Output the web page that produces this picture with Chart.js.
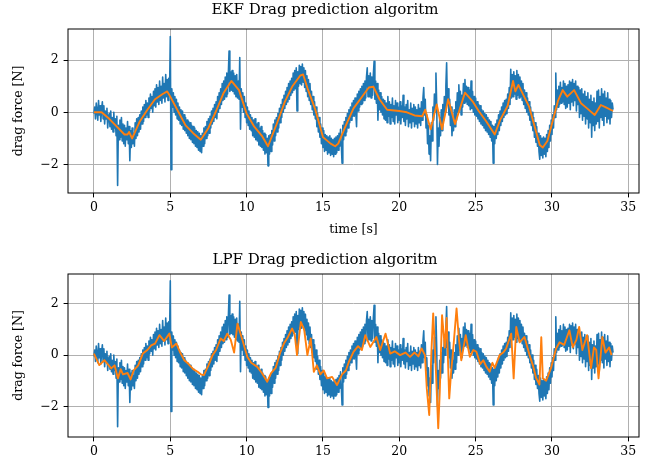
<!DOCTYPE html>
<html>
<head>
<meta charset="utf-8">
<script src="https://cdn.jsdelivr.net/npm/chart.js@4.4.0/dist/chart.umd.min.js"></script>
<style>
  html, body { margin: 0; padding: 0; background: #fff; }
  #wrap { position: relative; width: 654px; height: 468px; }
  #top { position: absolute; left: 0; top: 0; width: 654px; height: 240px; }
  #bottom { position: absolute; left: 0; top: 240px; width: 654px; height: 228px; }
</style>
</head>
<body>
<div id="wrap">
  <canvas id="top" width="654" height="240"></canvas>
  <canvas id="bottom" width="654" height="228"></canvas>
</div>
<script>
// --- Data ---
const sampleStep = 0.05; // measured signal, one value every 0.05 s, one row per second
const measuredForce = [
  -0.05, 0.2, -0.25, 0.35, 0.05, -0.3, 0.45, -0.1, 0.25, -0.35, 0.1, 0.4, -0.25, 0.25, -0.45, 0.05, -0.25, 0.15, -0.6, -0.15,
  -0.05, -0.55, 0.05, -0.65, -0.2, -0.75, 0.0, -0.6, -0.25, -0.9, -0.15, -2.8, -0.5, -1.05, -0.3, -0.95, -0.2, -1.1, -0.45, -1.2,
  -0.5, -1.3, -0.6, -1.05, -0.35, -1.2, -0.55, -1.85, -0.7, -1.35, -0.6, -1.2, -0.8, -1.3, -0.4, -1.0, -0.25, -0.9, -0.2, -0.75,
  -0.1, -0.65, 0.05, -0.45, 0.2, -0.35, 0.3, -0.2, 0.45, -0.1, 0.35, -0.2, 0.55, 0.05, 0.7, 0.15, 0.6, 0.0, 0.8, 0.25,
  0.9, 0.2, 1.05, 0.4, 0.95, 0.3, 1.2, 0.45, 1.0, 0.35, 1.35, 0.55, 1.1, 0.4, 1.45, 0.6, 1.25, 0.45, 1.3, 0.7,
  2.9, -2.2, 0.9, 0.2, 0.75, 0.0, 0.6, -0.1, 0.5, -0.25, 0.35, -0.3, 0.2, -0.45, 0.1, -0.5, 0.05, -0.65, -0.1, -0.7,
  -0.2, -0.8, -0.3, -0.9, -0.35, -1.0, -0.4, -1.05, -0.5, -1.15, -0.55, -1.2, -0.6, -1.3, -0.7, -1.35, -0.75, -1.45, -0.8, -1.5,
  -0.9, -1.55, -0.8, -1.3, -0.6, -1.2, -0.55, -1.0, -0.35, -0.9, -0.25, -0.8, -0.15, -0.6, 0.05, -0.45, 0.15, -0.35, 0.3, -0.2,
  0.4, -0.25, 0.6, 0.0, 0.75, 0.15, 0.9, 0.3, 1.1, 0.45, 1.2, 0.5, 1.35, 0.6, 1.5, 0.7, 1.45, 2.35, 0.8, 1.55,
  0.85, 1.6, 0.8, 1.5, 0.7, 1.4, 0.6, 1.45, 0.55, 1.2, 0.5, 2.1, -0.65, 0.9, 0.2, 0.75, 0.0, 0.6, -0.2, 0.35,
  -0.4, 0.2, -0.5, 0.05, -0.65, -0.1, -0.7, -0.2, -0.9, -0.3, -0.95, -0.25, -1.05, -0.45, -1.1, -0.4, -1.25, -0.6, -1.3, -0.55,
  -1.35, -0.7, -1.45, -0.8, -1.6, -0.85, -1.55, -1.0, -2.05, -0.9, -1.6, -0.85, -1.5, -0.7, -1.25, -0.45, -1.1, -0.3, -0.9, -0.2,
  -0.75, -0.05, -0.6, 0.15, -0.4, 0.3, -0.2, 0.5, 0.0, 0.65, 0.15, 0.8, 0.3, 0.95, 0.4, 1.1, 0.5, 1.2, 0.65, 1.3,
  0.75, 1.5, 0.85, 1.6, 0.9, 1.7, 0.05, 1.55, 1.0, 1.8, 1.1, 1.75, 1.05, 1.85, 1.15, 1.7, 0.95, 1.6, 0.8, 1.4,
  0.6, 1.25, 0.45, 1.1, 0.3, 0.8, 0.1, 0.6, -0.1, 0.4, -0.25, 0.2, -0.55, -0.05, -0.75, -0.2, -0.95, -0.45, -1.2, -0.6,
  -1.35, -0.7, -1.5, -0.85, -1.45, -0.9, -1.6, -0.95, -1.55, -0.9, -1.65, -1.0, -1.6, -1.05, -1.7, -1.0, -1.6, -0.95, -1.55, -0.9,
  -1.45, -0.8, -1.3, -0.65, -1.2, -1.95, -0.5, -1.05, -0.35, -0.9, -0.2, -0.75, -0.05, -0.6, 0.1, -0.4, 0.2, -0.3, 0.35, -0.15,
  0.45, -0.15, 0.55, 0.0, -0.55, 0.7, 0.05, 0.8, 0.2, 0.9, 0.3, 1.0, 0.35, 1.1, 0.45, 1.2, 0.55, 1.35, 1.7, 0.6,
  1.4, 0.6, 1.5, 0.55, 1.35, 0.65, 1.45, 1.95, 0.5, 1.2, 0.35, 1.1, -0.3, 0.85, 0.1, 0.75, 0.0, 0.6, -0.1, 0.5,
  -0.25, 0.45, -0.3, 0.35, -0.4, 0.6, -0.15, 0.4, -0.45, 0.3, -0.2, 0.55, -0.35, 0.25, -0.45, 0.45, -0.1, 0.35, -0.4, 0.2,
  -0.3, 0.4, -0.45, 0.25, -0.2, 0.65, -0.35, 0.2, -0.5, 0.3, -0.25, 0.45, -0.55, 0.1, -0.4, 0.35, -0.6, 0.15, -0.35, 0.3,
  -0.55, 0.2, -0.45, 0.1, -0.6, 0.3, -0.4, 0.15, -0.5, 0.4, -0.3, 0.55, 0.95, -0.1, 0.5, -0.6, -0.1, -1.2, -0.5, -1.6,
  -0.9, -1.85, -0.4, -1.1, 0.2, -0.3, 0.7, 0.0, 1.5, 0.3, -2.0, -0.6, -1.3, -0.2, -0.9, 0.1, -0.7, 0.3, -0.3, 0.6,
  0.0, 1.0, 1.9, 0.3, 0.9, -0.1, 0.5, -0.5, 0.2, -0.9, -0.2, -0.7, 0.1, -0.55, 0.4, -0.3, 0.75, 0.0, 1.05, 0.2,
  0.8, -0.1, 0.65, 0.2, 1.1, 0.35, 1.25, 0.4, 1.0, 0.3, 0.95, 0.25, 0.85, 0.1, 1.2, 0.15, 0.8, 0.0, 0.6, -0.1,
  0.55, -0.15, 0.4, -0.25, 0.3, -0.35, 0.25, -0.45, 0.1, -0.5, 0.05, -0.6, -0.05, -0.7, -0.1, -0.75, -0.2, -0.85, -0.3, -0.95,
  -0.35, -1.1, -0.5, -1.95, -0.55, -1.2, -0.45, -1.0, -0.3, -0.85, -0.1, -0.7, 0.05, -0.5, 0.2, -0.35, 0.35, -0.2, 0.45, -0.1,
  0.5, -0.05, 0.7, 0.15, 0.95, 0.3, 1.65, 0.55, 1.45, 0.6, 1.55, 0.7, 1.4, 0.5, 1.6, 0.65, 1.45, 0.55, 1.35, 0.6,
  1.2, 0.45, 1.1, 0.3, 0.85, 0.15, 0.75, 0.0, 0.55, -0.1, 0.4, -0.3, 0.2, -0.5, 0.0, -0.7, -0.2, -0.95, -0.4, -1.15,
  -0.55, -1.3, -0.8, -1.5, -1.8, -0.9, -1.65, -1.0, -1.75, -0.95, -1.6, -1.0, -1.7, -0.85, -1.5, -0.7, -1.35, -0.5, -1.1, -0.3,
  -0.85, -0.1, -0.6, 0.25, -0.2, 1.5, 0.1, 0.85, 0.2, 1.0, 0.3, 1.15, 0.35, 0.95, 0.4, 1.2, 0.3, 1.1, 0.15, 1.0,
  0.2, 1.05, 0.35, 1.2, 0.1, 1.15, 0.4, 1.25, 0.25, 1.1, 0.45, 1.2, 0.05, 1.0, 0.3, 0.95, -0.2, 0.85, -0.05, 0.9,
  -0.3, 0.7, -0.15, 0.8, -0.45, 0.6, -0.25, 0.75, -0.6, 0.5, -0.4, 0.65, -0.95, 0.4, -0.5, 0.55, -0.7, 0.35, -0.45, 0.8,
  -0.35, 0.85, -0.6, 0.6, -0.2, 0.9, -0.3, 0.7, -0.5, 0.8, -0.15, 0.55, -0.4, 0.75, -0.25, 0.5, -0.45, 0.45, -0.2, 0.35,
  0.1
];
const measuredTime = measuredForce.map((_, i) => +(i * sampleStep).toFixed(2));

const ekfTime = [
  0, 0.5, 1.0, 1.5, 2.0, 2.2, 2.3, 2.5, 3.0, 3.5,
  4.0, 4.5, 4.8, 5.0, 5.5, 6.0, 6.5, 7.0, 7.5, 8.0,
  8.5, 9.0, 9.5, 10.0, 10.5, 11.0, 11.4, 12.0, 12.5, 13.0,
  13.5, 13.7, 14.0, 14.5, 15.0, 15.5, 15.8, 16.0, 16.5, 17.0,
  17.5, 18.0, 18.3, 18.7, 19.2, 20.0, 20.5, 21.0, 21.5, 21.7,
  22.05, 22.45, 22.8, 23.2, 23.65, 24.3, 24.8, 25.2, 25.7, 26.25,
  26.6, 27.1, 27.45, 27.6, 27.8, 28.5, 29.2, 29.4, 29.7, 30.4,
  30.7, 31.0, 31.45, 31.9, 32.3, 32.8, 33.2, 33.5, 34.0
];
const ekfForce = [
  0.0, 0.0, -0.25, -0.55, -0.85, -0.85, -0.75, -1.0, -0.35, 0.1,
  0.5, 0.7, 0.8, 0.6, 0.05, -0.5, -0.8, -1.05, -0.6, 0.05,
  0.75, 1.2, 0.85, -0.05, -0.55, -0.9, -1.3, -0.4, 0.4, 1.0,
  1.4, 1.45, 0.9, 0.1, -0.95, -1.2, -1.3, -1.2, -0.5, 0.15,
  0.55, 0.95, 0.98, 0.5, 0.1, 0.05, 0.0, -0.12, -0.15, 0.1,
  -0.65, 0.3, -0.65, 0.5, -0.45, 0.75, 0.42, 0.05, -0.35, -0.85,
  -0.3, 0.25, 1.2, 0.8, 1.05, 0.22, -1.25, -1.35, -1.1, 0.45,
  0.85, 0.6, 0.85, 0.35, 0.15, -0.1, 0.28, 0.2, 0.05
];

const lpfTime = [
  0, 0.35, 0.68, 0.9, 1.13, 1.35, 1.57, 1.75, 1.9, 2.2,
  2.4, 2.6, 2.9, 3.2, 3.5, 3.75, 4.0, 4.29, 4.6, 4.94,
  5.1, 5.4, 5.65, 5.92, 6.2, 6.5, 6.79, 7.0, 7.2, 7.5,
  7.77, 8.0, 8.3, 8.5, 8.73, 8.96, 9.18, 9.4, 9.72, 10.05,
  10.3, 10.7, 11.0, 11.35, 11.6, 11.9, 12.2, 12.44, 12.7, 12.98,
  13.15, 13.3, 13.55, 13.77, 13.98, 14.2, 14.4, 14.6, 14.83, 15.05,
  15.27, 15.6, 15.92, 16.25, 16.5, 16.7, 17.0, 17.3, 17.55, 17.77,
  18.1, 18.5, 18.75, 19.1, 19.4, 19.7, 20.05, 20.4, 20.7, 21.0,
  21.25, 21.46, 21.68, 21.8, 21.96, 22.1, 22.22, 22.4, 22.55, 22.65,
  22.8, 22.98, 23.1, 23.27, 23.4, 23.5, 23.75, 23.9, 24.06, 24.35,
  24.62, 24.85, 25.05, 25.3, 25.5, 25.7, 25.92, 26.1, 26.25, 26.57,
  26.8, 27.0, 27.33, 27.49, 27.66, 27.88, 28.2, 28.53, 28.75, 28.96,
  29.18, 29.3, 29.4, 29.62, 29.94, 30.27, 30.5, 30.8, 31.14, 31.36,
  31.6, 31.78, 31.99, 32.3, 32.56, 32.75, 32.9, 33.05, 33.3, 33.5,
  33.75, 33.9
];
const lpfForce = [
  0.06, -0.39, -0.2, -0.35, -0.52, -0.4, -0.91, -0.55, -0.75, -0.7,
  -0.95, -0.6, -0.4, 0.06, 0.2, 0.38, 0.45, 0.78, 0.55, 0.84,
  0.3, 0.45, 0.1, -0.2, -0.35, -0.55, -0.65, -0.75, -0.78, -0.4,
  0.0, 0.2, 0.65, 0.55, 0.84, 0.6, 0.1, 1.23, 0.6, -0.07,
  -0.3, -0.46, -0.7, -1.04, -0.7, -0.5, 0.1, 0.45, 0.7, 1.04,
  0.8, 0.0, 1.3, 1.0, 0.0, 0.65, -0.65, -0.4, -0.75, -0.6,
  -0.91, -0.85, -1.17, -0.75, -0.6, -0.26, 0.13, 0.35, 0.2, 0.78,
  0.32, 0.71, 0.2, 0.84, 0.06, 0.15, 0.0, 0.1, -0.07, 0.1,
  -0.05, 0.26, 0.0, -1.3, -2.34, 0.1, 1.63, -0.65, -2.86, -1.43,
  1.56, 0.3, 1.45, -1.69, -0.6, 0.0, 1.82, 0.65, -0.2, 0.78,
  -0.07, 0.2, 0.13, -0.35, -0.2, -0.45, -0.65, -0.3, -0.5, 0.0,
  0.1, 0.26, 0.84, -0.91, 1.1, 0.5, 0.71, 0.0, -0.4, -0.89,
  -1.15, 0.7, -0.9, -1.0, -0.5, 0.26, 0.5, 0.4, 0.97, 0.3,
  0.6, 1.1, 0.2, 0.78, -0.51, 0.3, 0.2, -0.91, 0.71, 0.1,
  0.3, 0.0
];

const xTicks = [0, 5, 10, 15, 20, 25, 30, 35];
const yTicks = [-2, 0, 2];

// --- Style ---
const BLUE = '#1f77b4';
const ORANGE = '#ff7f0e';
const GRID = '#b0b0b0';
Chart.defaults.font.family = "'DejaVu Serif', serif";
Chart.defaults.color = '#000';

const fmt = v => String(v).replace('-', '\u2212');
const pairs = (xs, ys) => xs.map((x, i) => ({ x, y: ys[i] }));

// matplotlib style frame round the axes
const frame = {
  id: 'frame',
  afterDraw(chart) {
    const { ctx, chartArea: a } = chart;
    ctx.save();
    ctx.strokeStyle = '#000';
    ctx.lineWidth = 1;
    ctx.strokeRect(a.left, a.top, a.right - a.left, a.bottom - a.top);
    ctx.restore();
  }
};

function makeChart(id, cfg) {
  return new Chart(document.getElementById(id), {
    type: 'line',
    data: {
      // first dataset is drawn on top, so the filtered estimate comes first
      datasets: [
        { data: pairs(cfg.time, cfg.force), borderColor: ORANGE, borderWidth: 1.9 },
        { data: pairs(measuredTime, measuredForce), borderColor: BLUE, borderWidth: 1.6 }
      ]
    },
    options: {
      responsive: false, animation: false, events: [],
      elements: { point: { radius: 0 }, line: { tension: 0, borderJoinStyle: 'round' } },
      layout: { padding: { left: 11, right: 15, top: 0, bottom: cfg.padBottom } },
      plugins: {
        legend: { display: false },
        tooltip: { enabled: false },
        title: {
          display: true, text: cfg.title, color: '#000',
          font: { size: 15, weight: 'normal' },
          padding: cfg.titlePad
        }
      },
      scales: {
        x: {
          type: 'linear', min: -1.7, max: 35.7,
          afterBuildTicks: s => { s.ticks = xTicks.map(v => ({ value: v })); },
          afterFit: s => { s.height = cfg.xHeight; },
          grid: { color: GRID, lineWidth: 1, tickColor: '#000', tickLength: 4.4 },
          border: { display: false },
          ticks: { color: '#000', font: { size: 12.5 }, padding: 3, maxRotation: 0, autoSkip: false, callback: fmt },
          title: { display: !!cfg.xTitle, text: cfg.xTitle || '', color: '#000', font: { size: 12.5 }, padding: 0 }
        },
        y: {
          min: cfg.yMin, max: cfg.yMax,
          afterBuildTicks: s => { s.ticks = yTicks.map(v => ({ value: v })); },
          afterFit: s => { s.width = 57; },
          grid: { color: GRID, lineWidth: 1, tickColor: '#000', tickLength: 4.4 },
          border: { display: false },
          ticks: { color: '#000', font: { size: 12.5 }, padding: 5, callback: fmt },
          title: { display: true, text: 'drag force [N]', color: '#000', font: { size: 12.5 }, padding: 0 }
        }
      }
    },
    plugins: [frame]
  });
}

makeChart('top', {
  title: 'EKF Drag prediction algoritm', titlePad: { top: 1.5, bottom: 9.5 },
  time: ekfTime, force: ekfForce,
  yMin: -3.09, yMax: 3.19, xHeight: 44.5, padBottom: 2.5, xTitle: 'time [s]'
});
makeChart('bottom', {
  title: 'LPF Drag prediction algoritm', titlePad: { top: 11, bottom: 5 },
  time: lpfTime, force: lpfForce,
  yMin: -3.2, yMax: 3.17, xHeight: 31, padBottom: 0
});
</script>
</body>
</html>
